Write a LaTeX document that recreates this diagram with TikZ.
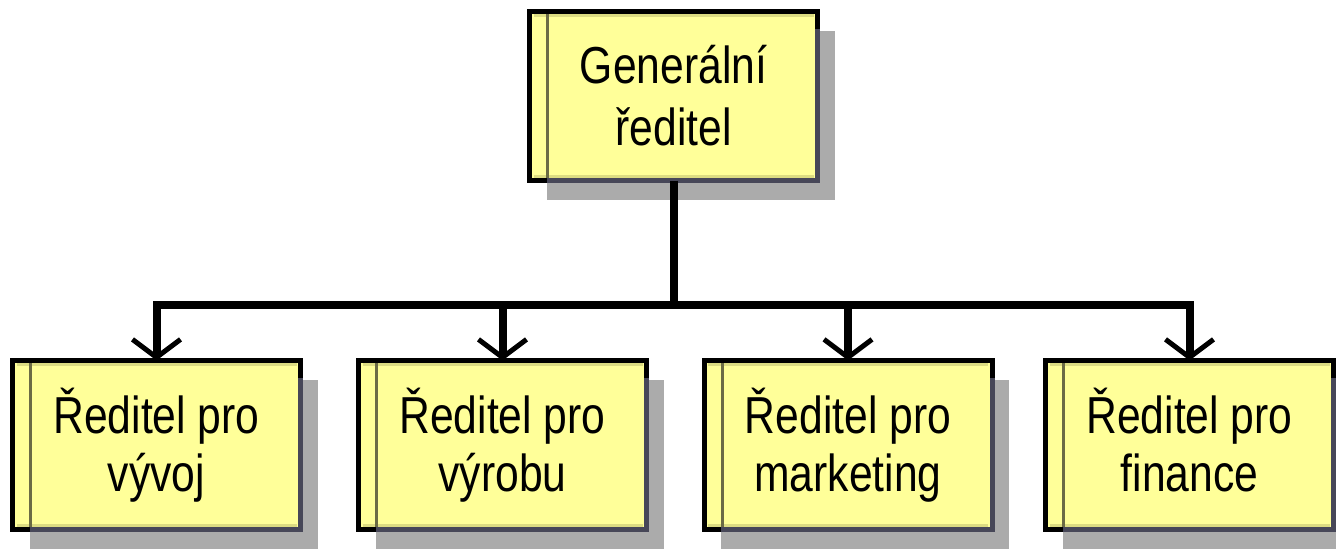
\documentclass[tikz,border=0pt]{standalone}
\usepackage{fontspec}
\setmainfont{Liberation Sans}[FakeStretch=0.82]
\usetikzlibrary{arrows.meta,shadows}
\definecolor{boxfill}{HTML}{FFFF99}
\definecolor{shadowgray}{HTML}{ABABAB}
\definecolor{edgedark}{HTML}{474758}
\definecolor{innerline}{HTML}{6B6B45}
\definecolor{innerband}{HTML}{DCDC82}
\begin{document}
\begin{tikzpicture}[x=1pt,y=-1pt,
  box/.style={draw=black, line width=5pt, fill=boxfill,
    minimum width=288pt, minimum height=169pt, inner sep=0pt, outer sep=0pt,
    align=center, font=\fontsize{52}{58}\selectfont,
    general shadow={fill=shadowgray, shadow xshift=17pt, shadow yshift=-19pt}},
  topbox/.style={box, font=\fontsize{52}{62}\selectfont},
  conn/.style={draw=black, line width=8pt},
  drop/.style={conn, -{Straight Barb[length=18pt, width=48pt, line width=5pt]}}]
\useasboundingbox (0,0) rectangle (1336,549);
\node[topbox] (top) at (673.5,96) {Generální\\ředitel};
\node[box] (b1) at (156.5,445) {Ředitel pro\\vývoj};
\node[box] (b2) at (502.5,445) {Ředitel pro\\výrobu};
\node[box] (b3) at (848,445) {Ředitel pro\\marketing};
\node[box] (b4) at (1189.5,445) {Ředitel pro\\finance\vphantom{y}};
\foreach \n in {top,b1,b2,b3,b4} {
  \draw[innerband, line width=3pt] ([xshift=4pt,yshift=-4pt]\n.north west) -- ([xshift=-4pt,yshift=-4pt]\n.north east);
  \draw[innerband, line width=3pt] ([xshift=4pt,yshift=4pt]\n.south west) -- ([xshift=-4pt,yshift=4pt]\n.south east);
  \draw[innerline, line width=3pt] ([xshift=18pt,yshift=-2.5pt]\n.north west) -- ([xshift=18pt,yshift=2.5pt]\n.south west);
  \draw[edgedark, line width=5pt] ([xshift=17pt]\n.south west) -- (\n.south east) -- ([yshift=-17pt]\n.north east);
}
\coordinate (bus) at (0,305);
\draw[conn] (top.south) -- (top.south |- bus);
\draw[conn, line cap=rect] (b1.north |- bus) -- (b4.north |- bus);
\foreach \n in {b1,b2,b3,b4} {
  \draw[drop] (\n.north |- bus) -- (\n.north);
}
\end{tikzpicture}
\end{document}
